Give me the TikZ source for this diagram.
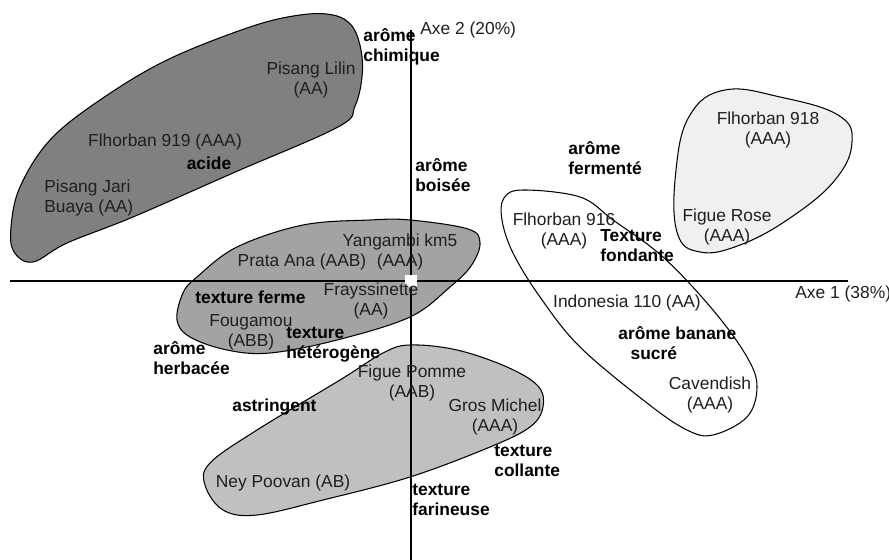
\documentclass[tikz,border=0pt]{standalone}
\usepackage{fontspec}
\setmainfont{Liberation Sans}
\begin{document}
\begin{tikzpicture}[x=0.02cm,y=-0.02cm,
  blob/.style={draw=black,line width=0.6pt},
  lab/.style={inner sep=0pt,align=center,text=black!88,font=\fontsize{9.9pt}{11.3pt}\selectfont},
  blab/.style={inner sep=0pt,align=left,anchor=west,text=black,font=\fontsize{9.9pt}{11.3pt}\selectfont\bfseries},
  axis/.style={draw=black,line width=0.75pt}]
\useasboundingbox (0,0) rectangle (889,560);
\definecolor{gdark}{RGB}{128,128,128}
\definecolor{gmed}{RGB}{163,163,163}
\definecolor{glight}{RGB}{192,192,192}
\definecolor{gvlight}{RGB}{240,240,240}
% blobs
\draw[blob,fill=gdark] plot[smooth cycle,tension=0.6] coordinates {(333,15) (352,26) (361,50) (362,77) (355,106) (338,127) (233,173) (133,217) (67,243) (33,262) (14,252) (11,227) (20,187) (50,140) (100,100) (167,60) (250,27) (300,15)};
\draw[blob,fill=gmed] plot[smooth cycle,tension=0.6] coordinates {(410,220) (468,229) (480,243) (471,266) (450,287) (410,317) (337,340) (270,353) (227,350) (190,337) (177,320) (183,293) (197,277) (237,247) (303,225) (370,220)};
\draw[blob,fill=glight] plot[smooth cycle,tension=0.6] coordinates {(410,345) (457,350) (507,367) (538,386) (543,407) (530,427) (490,447) (410,477) (323,500) (257,515) (223,510) (205,485) (210,463) (257,430) (340,380) (383,353)};
\draw[blob,fill=white] plot[smooth cycle,tension=0.6] coordinates {(523,190) (580,197) (613,220) (663,257) (713,310) (747,357) (757,387) (747,417) (713,435) (687,430) (647,403) (580,347) (540,297) (513,253) (502,220) (504,198)};
\draw[blob,fill=gvlight] plot[smooth cycle,tension=0.7] coordinates {(725,90) (780,97) (838,115) (852,142) (835,180) (790,218) (740,245) (700,252) (677,232) (676,170) (690,115)};
% axes
\coordinate (xl) at (10,281);
\coordinate (xr) at (848,281);
\coordinate (yt) at (411,30);
\coordinate (yb) at (411,560);
\draw[axis] (xl) -- (xr);
\draw[axis] (yt) -- (yb);
\node[fill=white,minimum size=7,inner sep=0pt] (origin) at (411,281) {};
\node[lab,anchor=west] (axe2) at (420,30) {Axe 2 (20\%)};
\node[lab,anchor=west] (axe1) at (795,294) {Axe 1 (38\%)};
% variety labels
\node[lab] (lilin) at (311,80) {Pisang Lilin\\(AA)};
\node[lab] (f919) at (165,142) {Flhorban 919 (AAA)};
\node[lab,align=left,anchor=west] (jari) at (44,198) {Pisang Jari\\Buaya (AA)};
\node[lab] (f918) at (768,130) {Flhorban 918\\(AAA)};
\node[lab] (rose) at (727,227) {Figue Rose\\(AAA)};
\node[lab] (f916) at (564,231) {Flhorban 916\\(AAA)};
\node[lab] (yang) at (400,252) {Yangambi km5\\(AAA)};
\node[lab] (prata) at (302,262) {Prata Ana (AAB)};
\node[lab] (fray) at (371,301) {Frayssinette\\(AA)};
\node[lab] (foug) at (251,332) {Fougamou\\(ABB)};
\node[lab] (pomme) at (412,383) {Figue Pomme\\(AAB)};
\node[lab] (ney) at (283,483) {Ney Poovan (AB)};
\node[lab] (gros) at (495,417) {Gros Michel\\(AAA)};
\node[lab] (indo) at (627,303) {Indonesia 110 (AA)};
\node[lab] (cav) at (710,395) {Cavendish\\(AAA)};
% attribute labels
\node[blab] (chim) at (363,47) {arôme\\chimique};
\node[blab,anchor=center] (acide) at (209,163) {acide};
\node[blab] (bois) at (415,175) {arôme\\boisée};
\node[blab] (ferm) at (568,158) {arôme\\fermenté};
\node[blab] (fond) at (600,246) {Texture\\fondante};
\node[blab] (tferme) at (195,297) {texture ferme};
\node[blab] (hetero) at (286,345) {texture\\hétérogène};
\node[blab] (herb) at (153,358) {arôme\\herbacée};
\node[blab] (astr) at (232,407) {astringent};
\node[blab] (colle) at (494,461) {texture\\collante};
\node[blab] (farin) at (412,500) {texture\\farineuse};
\node[blab] (banane) at (618,343) {arôme banane\\\hspace*{7pt}sucré};
\end{tikzpicture}
\end{document}
